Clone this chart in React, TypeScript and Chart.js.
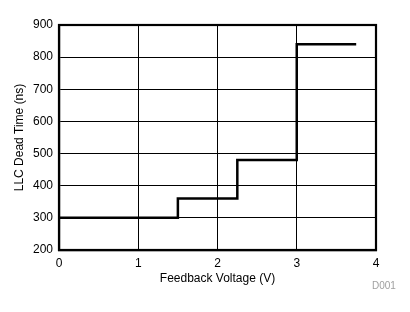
import React, { useEffect, useRef } from "react";
import { Chart, registerables } from "chart.js";

Chart.register(...registerables);

const voltage = [0, 1.5, 2.25, 3.0, 3.75];
const deadTime = [300, 360, 480, 840, 840];
const xTitle = "Feedback Voltage (V)";
const yTitle = "LLC Dead Time (ns)";
const footnote = "D001";

const FONT = "'Liberation Sans', Arial, sans-serif";

const framePlugin = {
  id: "frame",
  afterDraw(chart: any) {
    const { ctx, chartArea } = chart;
    ctx.save();
    ctx.strokeStyle = "#000";
    ctx.lineWidth = 2.2;
    ctx.strokeRect(chartArea.left, chartArea.top, chartArea.right - chartArea.left, chartArea.bottom - chartArea.top);
    ctx.fillStyle = "#a0a0a0";
    ctx.font = "10px " + FONT;
    ctx.textAlign = "left";
    ctx.textBaseline = "middle";
    ctx.fillText(footnote, 372, 286);
    ctx.restore();
  },
};

export default function App() {
  const ref = useRef<HTMLCanvasElement>(null);
  useEffect(() => {
    document.body.style.margin = "0";
    const chart = new Chart(ref.current!, {
      type: "line",
      data: {
        datasets: [
          {
            data: voltage.map((v, i) => ({ x: v, y: deadTime[i] })),
            borderColor: "#000",
            borderWidth: 2.5,
            pointRadius: 0,
            stepped: true,
            fill: false,
          },
        ],
      },
      options: {
        responsive: false,
        animation: false,
        plugins: { legend: { display: false }, tooltip: { enabled: false } },
        layout: { padding: { left: 0, top: 25, right: 34, bottom: 0 } },
        scales: {
          x: {
            type: "linear",
            min: 0,
            max: 4,
            ticks: { stepSize: 1, color: "#000", font: { family: FONT, size: 12 }, padding: 6 },
            grid: { color: "#000", lineWidth: 1, drawTicks: false },
            border: { color: "#000", width: 2.2 },
            title: { display: true, text: xTitle, color: "#000", font: { family: FONT, size: 12 }, padding: { top: 4, bottom: 26 } },
            afterFit: (s: any) => { s.height = 62; },
          },
          y: {
            type: "linear",
            min: 200,
            max: 900,
            ticks: { stepSize: 100, color: "#000", font: { family: FONT, size: 12 }, padding: 6 },
            grid: { color: "#000", lineWidth: 1, drawTicks: false },
            border: { color: "#000", width: 2.2 },
            title: { display: true, text: yTitle, color: "#000", font: { family: FONT, size: 12 }, padding: { top: 12, bottom: 4 } },
            afterFit: (s: any) => { s.width = 59; },
          },
        },
      },
      plugins: [framePlugin],
    } as any);
    return () => chart.destroy();
  }, []);
  return (
    <div style={{ position: "fixed", left: 0, top: 0, width: 410, height: 312, background: "#fff" }}>
      <canvas ref={ref} width={410} height={312} />
    </div>
  );
}
